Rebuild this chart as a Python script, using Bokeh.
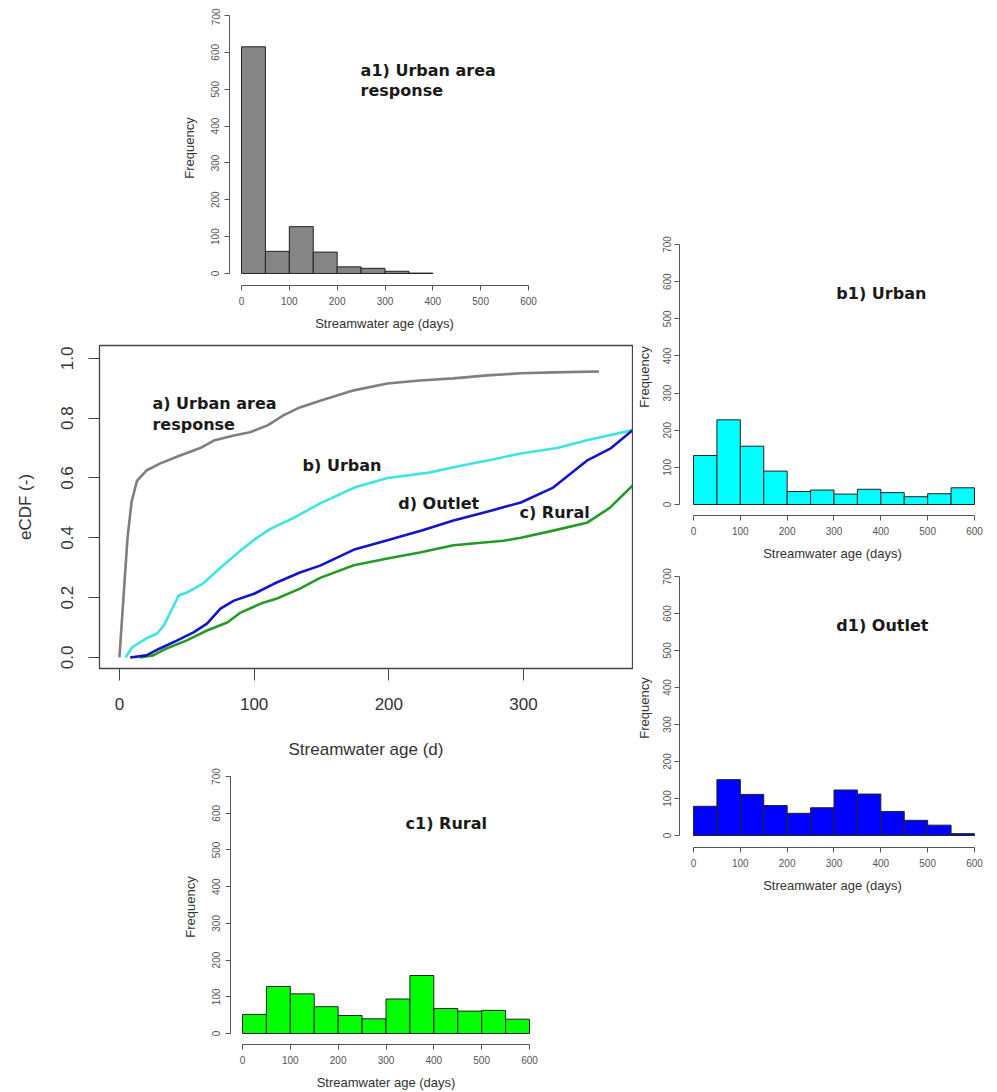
import math
from bokeh.plotting import figure
from bokeh.layouts import column, row
from bokeh.models import Range1d, FixedTicker, Label, Spacer, PrintfTickFormatter
from bokeh.embed import file_html
from bokeh.resources import INLINE

# ---------------- data ----------------
bin_edges = [0, 50, 100, 150, 200, 250, 300, 350, 400, 450, 500, 550, 600]
a1_counts = [615, 60, 127, 58, 18, 14, 6, 1]
b1_counts = [132, 228, 157, 90, 35, 39, 28, 41, 32, 21, 29, 45]
c1_counts = [52, 128, 108, 73, 49, 40, 94, 158, 68, 61, 63, 39]
d1_counts = [79, 151, 111, 81, 60, 75, 123, 112, 65, 41, 28, 5]

gray_x = [0, 3, 6, 9, 13, 20, 30, 45, 60, 70, 85, 97, 110, 122, 134, 149, 174, 199, 223, 248, 273, 298, 322, 356]
gray_y = [0, 0.2, 0.40, 0.52, 0.59, 0.625, 0.648, 0.675, 0.70, 0.725, 0.742, 0.753, 0.776, 0.81, 0.836, 0.858,
          0.893, 0.916, 0.926, 0.933, 0.943, 0.95, 0.953, 0.956]
cyan_x = [4.5, 9.5, 20, 28, 33, 44, 50, 62, 75, 90, 102, 112, 130, 149, 175, 199, 230, 248, 275, 298, 325, 347, 381]
cyan_y = [0, 0.034, 0.064, 0.08, 0.107, 0.207, 0.217, 0.247, 0.30, 0.358, 0.40, 0.43, 0.468, 0.515, 0.569, 0.60,
          0.618, 0.636, 0.66, 0.682, 0.70, 0.726, 0.76]
blue_x = [8, 20, 30, 43, 55, 65, 75, 85, 100, 115, 134, 149, 175, 199, 225, 248, 275, 298, 322, 347, 365, 381]
blue_y = [0, 0.007, 0.03, 0.057, 0.084, 0.113, 0.163, 0.19, 0.213, 0.247, 0.284, 0.307, 0.362, 0.392, 0.425,
          0.458, 0.49, 0.518, 0.568, 0.658, 0.70, 0.76]
green_x = [15, 25, 35, 50, 65, 80, 90, 105, 117, 134, 149, 174, 199, 223, 248, 285, 298, 322, 347, 364, 381]
green_y = [0, 0.007, 0.03, 0.057, 0.09, 0.117, 0.15, 0.18, 0.197, 0.23, 0.266, 0.308, 0.331, 0.351, 0.375,
           0.39, 0.40, 0.424, 0.45, 0.50, 0.575]

hist_x_ticks = [0, 100, 200, 300, 400, 500, 600]
hist_y_ticks = [0, 100, 200, 300, 400, 500, 600, 700]
main_x_ticks = [0, 100, 200, 300]
main_y_ticks = [0, 0.2, 0.4, 0.6, 0.8, 1.0]

AX_FONT = "Liberation Sans"
TITLE_FONT = "DejaVu Sans"


def style_hist_axes(p, y_lab_standoff, y_axis_standoff):
    p.xgrid.visible = False
    p.ygrid.visible = False
    p.outline_line_color = None
    for ax in (p.xaxis[0], p.yaxis[0]):
        ax.axis_line_color = "#555555"
        ax.major_tick_line_color = "#555555"
        ax.major_tick_out = 5
        ax.major_tick_in = 0
        ax.minor_tick_line_color = None
        ax.major_label_text_font = AX_FONT
        ax.major_label_text_font_size = "10px"
        ax.major_label_text_color = "#555555"
        ax.axis_label_text_font = AX_FONT
        ax.axis_label_text_font_size = "13px"
        ax.axis_label_text_font_style = "normal"
        ax.axis_label_text_color = "#333333"
    xa = p.xaxis[0]
    xa.bounds = (0, 600)
    xa.ticker = FixedTicker(ticks=hist_x_ticks)
    xa.axis_label = "Streamwater age (days)"
    xa.major_label_standoff = 6
    xa.axis_label_standoff = 8
    ya = p.yaxis[0]
    ya.bounds = (0, 700)
    ya.ticker = FixedTicker(ticks=hist_y_ticks)
    ya.axis_label = "Frequency"
    ya.major_label_orientation = "vertical"
    ya.major_label_standoff = y_lab_standoff
    ya.axis_label_standoff = y_axis_standoff


def make_hist(counts, color, titles, xr, yr, fw, fh, bl, br, bt, bb, ys=(5, 12)):
    p = figure(frame_width=fw, frame_height=fh, x_range=Range1d(*xr), y_range=Range1d(*yr),
               output_backend="svg", toolbar_location=None,
               min_border_left=bl, min_border_right=br, min_border_top=bt, min_border_bottom=bb,
               background_fill_color="white", border_fill_color="white")
    n = len(counts)
    p.quad(left=bin_edges[:n], right=bin_edges[1:n + 1], bottom=[0] * n, top=counts,
           fill_color=color, line_color="#222222", line_width=1)
    style_hist_axes(p, ys[0], ys[1])
    for (tx, ty, tt) in titles:
        p.add_layout(Label(x=tx, y=ty, text=tt, text_font=TITLE_FONT, text_font_style="bold",
                           text_font_size="16px", text_baseline="middle", text_align="left",
                           text_color="#1a1a1a"))
    return p


# a1 (top)
a1 = make_hist(a1_counts, "#858585",
               [(249, 551, "a1) Urban area"), (249, 497, "response")],
               (-25.1, 623.0), (-32.6, 713.5), 310, 275, 221, 94, 2, 50)

# main eCDF plot
m = figure(frame_width=533, frame_height=323, x_range=Range1d(-14.8, 380.9), y_range=Range1d(-0.037, 1.043),
           output_backend="svg", toolbar_location=None,
           min_border_left=91, min_border_right=1, min_border_top=10, min_border_bottom=92,
           background_fill_color="white", border_fill_color="white")
m.xgrid.visible = False
m.ygrid.visible = False
m.outline_line_color = "#444444"
m.outline_line_width = 1.3
m.line(gray_x, gray_y, line_color="#7f7f7f", line_width=2.6)
m.line(cyan_x, cyan_y, line_color="#3ee3e3", line_width=2.6)
m.line(green_x, green_y, line_color="#259b25", line_width=2.6)
m.line(blue_x, blue_y, line_color="#1414c8", line_width=2.6)
for ax in (m.xaxis[0], m.yaxis[0]):
    ax.axis_line_color = "#444444"
    ax.major_tick_line_color = "#444444"
    ax.major_tick_in = 0
    ax.minor_tick_line_color = None
    ax.major_label_text_font = AX_FONT
    ax.major_label_text_font_size = "17px"
    ax.major_label_text_color = "#333333"
    ax.axis_label_text_font = AX_FONT
    ax.axis_label_text_font_size = "17px"
    ax.axis_label_text_font_style = "normal"
    ax.axis_label_text_color = "#333333"
mx = m.xaxis[0]
mx.bounds = (0, 300)
mx.ticker = FixedTicker(ticks=main_x_ticks)
mx.major_tick_out = 12
mx.major_label_standoff = 17
mx.axis_label = "Streamwater age (d)"
mx.axis_label_standoff = 27
my = m.yaxis[0]
my.bounds = (0, 1)
my.ticker = FixedTicker(ticks=main_y_ticks)
my.formatter = PrintfTickFormatter(format="%.1f")
my.major_tick_out = 11
my.major_label_standoff = 15
my.major_label_orientation = "vertical"
my.axis_label = "eCDF (-)"
my.axis_label_standoff = 24
for (tx, ty, tt) in [(24.5, 0.849, "a) Urban area"), (24.5, 0.779, "response"), (136, 0.642, "b) Urban"),
                     (207, 0.515, "d) Outlet"), (297, 0.485, "c) Rural")]:
    m.add_layout(Label(x=tx, y=ty, text=tt, text_font=TITLE_FONT, text_font_style="bold",
                       text_font_size="16px", text_baseline="middle", text_align="left",
                       text_color="#1a1a1a"))

# c1 (bottom)
c1 = make_hist(c1_counts, "#00ff00", [(341, 572, "c1) Rural")],
               (-25.1, 625.1), (-30.0, 719.3), 311, 275, 222, 92, 8, 41)

# b1, d1 (right)
b1 = make_hist(b1_counts, "#00ffff", [(305, 568, "b1) Urban")],
               (-29.9, 623.5), (-29.6, 716.2), 306, 277, 44, 0, 10, 42, ys=(3, 9))
d1 = make_hist(d1_counts, "#0000ff", [(305, 568, "d1) Outlet")],
               (-29.9, 623.5), (-32.4, 721.6), 306, 279, 44, 0, 5, 50, ys=(3, 9))

left = column(row(a1), row(m), row(c1))
right = column(Spacer(width=350, height=220), row(b1), row(d1))
layout = column(Spacer(width=986, height=8), row(Spacer(width=8, height=10), left, right))

open("out.html", "w").write(file_html(layout, INLINE))
